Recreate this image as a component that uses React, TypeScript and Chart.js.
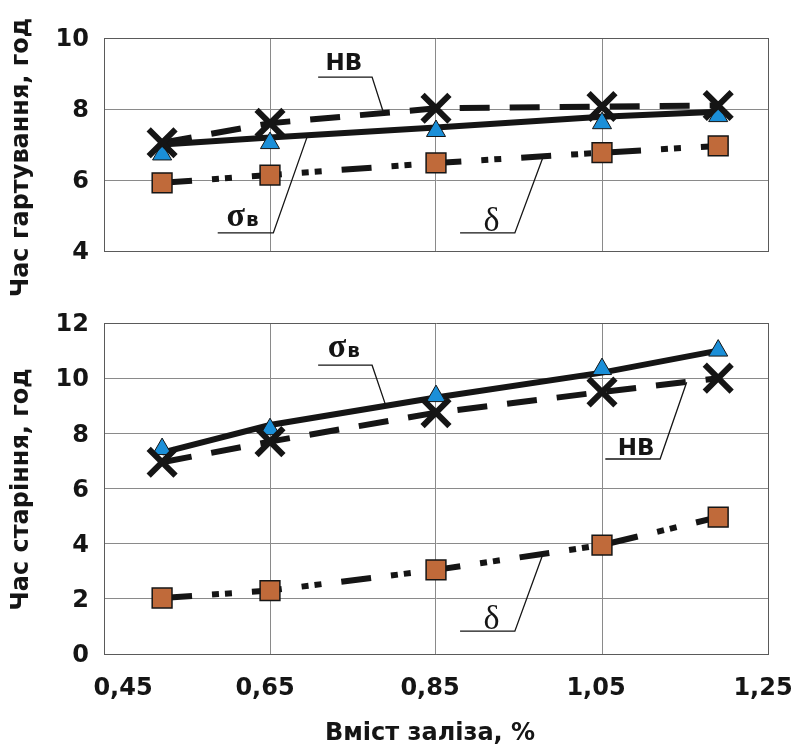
import React, { useEffect, useRef } from "react";
import { Chart, registerables } from "chart.js";

Chart.register(...registerables);

// ---------- data ----------
const X_VALUES = [0.52, 0.65, 0.85, 1.05, 1.19];
const X_TICKS = [0.45, 0.65, 0.85, 1.05, 1.25];
const X_TICK_LABELS = ["0,45", "0,65", "0,85", "1,05", "1,25"];
const X_TITLE = "Вміст заліза, %";

const TOP_TITLE = "Час гартування, год";
const TOP_Y_TICKS = [4, 6, 8, 10];
const TOP_HB = [7.05, 7.6, 8.02, 8.07, 8.1];
const TOP_SIGMA = [6.72, 7.04, 7.38, 7.6, 7.8];
const TOP_SIGMA_LINE = [7.0, 7.2, 7.48, 7.78, 7.92];
const TOP_DELTA = [5.92, 6.14, 6.48, 6.77, 6.96];

const BOTTOM_TITLE = "Час старіння, год";
const BOTTOM_Y_TICKS = [0, 2, 4, 6, 8, 10, 12];
const BOTTOM_HB = [6.95, 7.7, 8.75, 9.5, 10.0];
const BOTTOM_SIGMA = [7.43, 8.15, 9.35, 10.33, 11.0];
const BOTTOM_SIGMA_LINE = [7.3, 8.3, 9.3, 10.2, 11.0];
const BOTTOM_DELTA = [2.03, 2.3, 3.05, 3.95, 4.96];

// curve labels with leader lines (data coordinates)
type Note = { label: string; tx: number; ty: number; ux0: number; ux1: number; uy: number; px: number; py: number };
const TOP_NOTES: Note[] = [
  { label: "НВ", tx: 0.739, ty: 9.1, ux0: 0.708, ux1: 0.773, uy: 8.9, px: 0.786, py: 7.95 },
  { label: "σв", tx: 0.617, ty: 4.7, ux0: 0.587, ux1: 0.654, uy: 4.51, px: 0.696, py: 7.3 },
  { label: "δ", tx: 0.917, ty: 4.55, ux0: 0.879, ux1: 0.945, uy: 4.51, px: 0.979, py: 6.65 },
];
const BOTTOM_NOTES: Note[] = [
  { label: "σв", tx: 0.739, ty: 10.76, ux0: 0.708, ux1: 0.773, uy: 10.47, px: 0.789, py: 9.05 },
  { label: "НВ", tx: 1.091, ty: 7.21, ux0: 1.054, ux1: 1.12, uy: 7.07, px: 1.152, py: 9.85 },
  { label: "δ", tx: 0.917, ty: 0.9, ux0: 0.879, ux1: 0.945, uy: 0.83, px: 0.978, py: 3.55 },
];

// ---------- styles ----------
const INK = "#151515";
const BLUE = "#1b8fd8";
const BROWN = "#c06a3a";
const GRID = "#8a8a8a";
const FRAME = "#5a5a5a";
const SANS = "'DejaVu Sans', Verdana, sans-serif";
const SERIF = "'Liberation Serif', 'Times New Roman', serif";
const X_LABEL_SHIFT = [19, -5, -6, -6, -5];

function drawNote(ctx: CanvasRenderingContext2D, chart: any, n: Note) {
  const xs = chart.scales.x;
  const ys = chart.scales.y;
  const x0 = xs.getPixelForValue(n.ux0);
  const x1 = xs.getPixelForValue(n.ux1);
  const uy = ys.getPixelForValue(n.uy);
  const px = xs.getPixelForValue(n.px);
  const py = ys.getPixelForValue(n.py);
  const tx = xs.getPixelForValue(n.tx);
  const ty = ys.getPixelForValue(n.ty);
  ctx.save();
  ctx.strokeStyle = INK;
  ctx.lineWidth = 1.3;
  ctx.beginPath();
  ctx.moveTo(x0, uy);
  ctx.lineTo(x1, uy);
  ctx.lineTo(px, py);
  ctx.stroke();
  ctx.fillStyle = INK;
  ctx.textBaseline = "alphabetic";
  if (n.label === "σв") {
    const f1 = `bold 34px ${SERIF}`;
    const f2 = `bold 20px ${SANS}`;
    ctx.font = f1;
    const w1 = ctx.measureText("σ").width;
    ctx.font = f2;
    const w2 = ctx.measureText("в").width;
    const start = tx - (w1 + w2 + 1) / 2;
    ctx.textAlign = "left";
    ctx.font = f1;
    ctx.fillText("σ", start, ty);
    ctx.font = f2;
    ctx.fillText("в", start + w1 + 1, ty);
  } else if (n.label === "δ") {
    ctx.font = `34px ${SERIF}`;
    ctx.textAlign = "center";
    ctx.fillText("δ", tx, ty);
  } else {
    ctx.font = `bold 23px ${SANS}`;
    ctx.textAlign = "center";
    ctx.fillText(n.label, tx, ty);
  }
  ctx.restore();
}

type PanelOpts = {
  yMin: number;
  yMax: number;
  yTicks: number[];
  hb: number[];
  sigma: number[];
  sigmaLine: number[];
  delta: number[];
  notes: Note[];
  title: string;
  titleShift: number;
  showX: boolean;
  xAxisHeight: number;
  padTop: number;
};

function buildConfig(o: PanelOpts): any {
  const pts = (ys: number[]) => X_VALUES.map((x, i) => ({ x, y: ys[i] }));
  const frameColor = (min: number, max: number) => (c: any) =>
    c.tick && (c.tick.value === min || c.tick.value === max) ? FRAME : GRID;

  const decor = {
    id: "decor",
    afterDatasetsDraw(chart: any) {
      const ctx = chart.ctx;
      o.notes.forEach((n) => drawNote(ctx, chart, n));
    },
    afterDraw(chart: any) {
      const ctx = chart.ctx as CanvasRenderingContext2D;
      const area = chart.chartArea;
      ctx.save();
      ctx.fillStyle = INK;
      ctx.font = `bold 24px ${SANS}`;
      ctx.translate(22, (area.top + area.bottom) / 2 + o.titleShift);
      ctx.rotate(-Math.PI / 2);
      ctx.textAlign = "center";
      ctx.textBaseline = "middle";
      ctx.fillText(o.title, 0, 0);
      ctx.restore();
      if (o.showX) {
        const xs = chart.scales.x;
        ctx.save();
        ctx.fillStyle = INK;
        ctx.font = `bold 24px ${SANS}`;
        ctx.textAlign = "center";
        ctx.textBaseline = "alphabetic";
        X_TICKS.forEach((v, i) => {
          ctx.fillText(X_TICK_LABELS[i], xs.getPixelForValue(v) + X_LABEL_SHIFT[i], area.bottom + 41);
        });
        ctx.fillText(X_TITLE, (area.left + area.right) / 2 - 6, area.bottom + 86);
        ctx.restore();
      }
    },
  };

  return {
    type: "scatter",
    data: {
      datasets: [
        { label: "σв line", data: pts(o.sigmaLine), showLine: true, borderColor: INK, borderWidth: 6, pointRadius: 0, fill: false, order: 10 },
        { label: "НВ line", data: pts(o.hb), showLine: true, borderColor: INK, borderWidth: 6, borderDash: [30, 20], pointRadius: 0, fill: false, order: 11 },
        { label: "δ line", data: pts(o.delta), showLine: true, borderColor: INK, borderWidth: 6, borderDash: [30, 20, 7, 6, 7, 20], pointRadius: 0, fill: false, order: 12 },
        { label: "δ", data: pts(o.delta), showLine: false, pointStyle: "rect", pointRadius: 14, pointBackgroundColor: BROWN, pointBorderColor: INK, pointBorderWidth: 1.5, order: 3, clip: false },
        { label: "σв", data: pts(o.sigma), showLine: false, pointStyle: "triangle", pointRadius: 11, pointBackgroundColor: BLUE, pointBorderColor: INK, pointBorderWidth: 1, order: 2, clip: false },
        { label: "НВ", data: pts(o.hb), showLine: false, pointStyle: "crossRot", pointRadius: 19, pointBorderColor: INK, pointBackgroundColor: INK, pointBorderWidth: 6, order: 1, clip: false },
      ],
    },
    options: {
      responsive: false,
      devicePixelRatio: 1,
      animation: false,
      events: [],
      layout: { padding: { top: o.padTop, right: 26, left: 0, bottom: 0 } },
      plugins: { legend: { display: false }, tooltip: { enabled: false } },
      scales: {
        x: {
          type: "linear",
          min: 0.45,
          max: 1.25,
          afterBuildTicks: (s: any) => {
            s.ticks = X_TICKS.map((v) => ({ value: v }));
          },
          afterFit: (s: any) => {
            s.height = o.xAxisHeight;
          },
          ticks: { display: false },
          grid: { color: frameColor(0.45, 1.25), drawTicks: false, lineWidth: 1 },
          border: { color: FRAME, width: 1 },
        },
        y: {
          type: "linear",
          min: o.yMin,
          max: o.yMax,
          afterBuildTicks: (s: any) => {
            s.ticks = o.yTicks.map((v) => ({ value: v }));
          },
          afterFit: (s: any) => {
            s.width = 104;
          },
          ticks: {
            font: { family: SANS, size: 24, weight: "bold" },
            color: INK,
            padding: 15,
            labelOffset: 2,
            callback: (v: any) => String(v),
          },
          grid: { color: frameColor(o.yMin, o.yMax), drawTicks: false, lineWidth: 1 },
          border: { color: FRAME, width: 1 },
        },
      },
    },
    plugins: [decor],
  };
}

export default function App() {
  const topRef = useRef<HTMLCanvasElement | null>(null);
  const bottomRef = useRef<HTMLCanvasElement | null>(null);

  useEffect(() => {
    const top = new Chart(
      topRef.current as HTMLCanvasElement,
      buildConfig({
        yMin: 4,
        yMax: 10,
        yTicks: TOP_Y_TICKS,
        hb: TOP_HB,
        sigma: TOP_SIGMA,
        sigmaLine: TOP_SIGMA_LINE,
        delta: TOP_DELTA,
        notes: TOP_NOTES,
        title: TOP_TITLE,
        titleShift: 13,
        showX: false,
        xAxisHeight: 59,
        padTop: 38,
      })
    );
    const bottom = new Chart(
      bottomRef.current as HTMLCanvasElement,
      buildConfig({
        yMin: 0,
        yMax: 12,
        yTicks: BOTTOM_Y_TICKS,
        hb: BOTTOM_HB,
        sigma: BOTTOM_SIGMA,
        sigmaLine: BOTTOM_SIGMA_LINE,
        delta: BOTTOM_DELTA,
        notes: BOTTOM_NOTES,
        title: BOTTOM_TITLE,
        titleShift: 1,
        showX: true,
        xAxisHeight: 90,
        padTop: 33,
      })
    );
    return () => {
      top.destroy();
      bottom.destroy();
    };
  }, []);

  return (
    <div style={{ position: "absolute", left: 0, top: 0, width: 794, height: 744, background: "#fff" }}>
      <canvas ref={topRef} width={794} height={310} style={{ position: "absolute", left: 0, top: 0, display: "block" }} />
      <canvas ref={bottomRef} width={794} height={454} style={{ position: "absolute", left: 0, top: 290, display: "block" }} />
    </div>
  );
}
